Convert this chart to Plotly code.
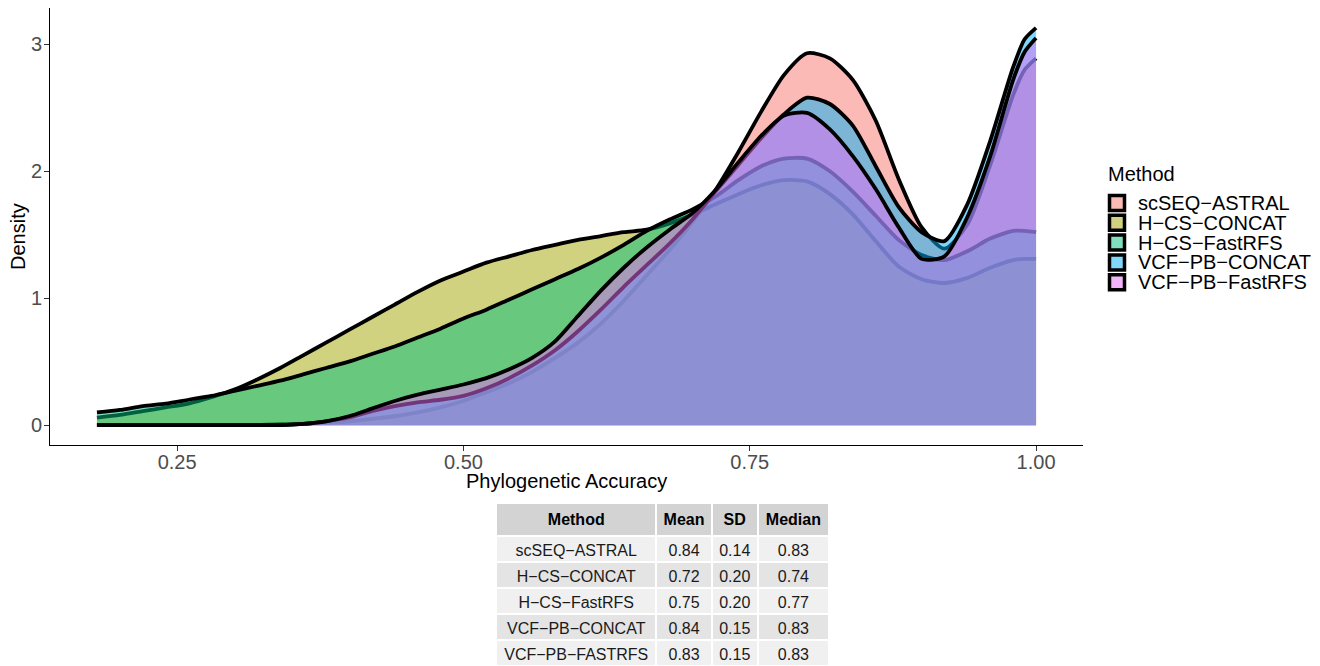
import plotly.graph_objects as go

# ---------------- data ----------------
x_grid = [0.18, 0.20, 0.22, 0.24, 0.26, 0.28, 0.30, 0.32, 0.34, 0.36,
          0.38, 0.40, 0.42, 0.44, 0.46, 0.48, 0.50, 0.52, 0.54, 0.56,
          0.58, 0.60, 0.62, 0.64, 0.66, 0.68, 0.70, 0.72, 0.74, 0.76,
          0.78, 0.80, 0.82, 0.84, 0.86, 0.88, 0.90, 0.92, 0.94, 0.96,
          0.98, 0.99, 1.00]

methods = ["scSEQ−ASTRAL", "H−CS−CONCAT", "H−CS−FastRFS",
           "VCF−PB−CONCAT", "VCF−PB−FastRFS"]

dens_scseq_astral = [0.00, 0.00, 0.00, 0.00, 0.00, 0.00, 0.00, 0.00, 0.01, 0.01,
                     0.02, 0.03, 0.05, 0.07, 0.10, 0.14, 0.19, 0.26, 0.33, 0.42,
                     0.53, 0.65, 0.80, 0.98, 1.18, 1.38, 1.60, 1.85, 2.15, 2.47,
                     2.76, 2.93, 2.89, 2.72, 2.40, 1.94, 1.56, 1.39, 1.58, 2.05,
                     2.60, 2.80, 2.89]

dens_hcs_concat = [0.06, 0.08, 0.11, 0.14, 0.17, 0.22, 0.28, 0.36, 0.45, 0.55,
                   0.65, 0.75, 0.85, 0.95, 1.05, 1.14, 1.21, 1.28, 1.33, 1.38,
                   1.42, 1.46, 1.49, 1.52, 1.54, 1.59, 1.66, 1.74, 1.82, 1.89,
                   1.93, 1.92, 1.82, 1.66, 1.45, 1.25, 1.15, 1.12, 1.16, 1.24,
                   1.30, 1.31, 1.31]

dens_hcs_fastrfs = [0.10, 0.12, 0.15, 0.17, 0.20, 0.23, 0.27, 0.31, 0.35, 0.40,
                    0.45, 0.50, 0.56, 0.62, 0.69, 0.76, 0.84, 0.91, 0.99, 1.07,
                    1.15, 1.23, 1.32, 1.42, 1.53, 1.62, 1.70, 1.80, 1.93, 2.04,
                    2.10, 2.10, 2.00, 1.84, 1.65, 1.46, 1.34, 1.30, 1.37, 1.47,
                    1.53, 1.53, 1.52]

dens_vcf_concat = [0.00, 0.00, 0.00, 0.00, 0.00, 0.00, 0.00, 0.00, 0.00, 0.01,
                   0.03, 0.06, 0.11, 0.15, 0.18, 0.20, 0.23, 0.29, 0.37, 0.47,
                   0.59, 0.74, 0.91, 1.09, 1.26, 1.43, 1.62, 1.84, 2.05, 2.26,
                   2.45, 2.58, 2.53, 2.36, 2.04, 1.72, 1.52, 1.45, 1.74, 2.24,
                   2.82, 3.04, 3.13]

dens_vcf_fastrfs = [0.00, 0.00, 0.00, 0.00, 0.00, 0.00, 0.00, 0.00, 0.00, 0.01,
                    0.03, 0.07, 0.13, 0.19, 0.24, 0.28, 0.32, 0.37, 0.44, 0.53,
                    0.66, 0.86, 1.06, 1.24, 1.40, 1.54, 1.67, 1.85, 2.07, 2.28,
                    2.44, 2.46, 2.33, 2.12, 1.86, 1.56, 1.31, 1.33, 1.64, 2.12,
                    2.72, 2.94, 3.05]

fill_colors = ["rgba(248,118,109,0.5)", "rgba(163,165,0,0.5)", "rgba(0,191,125,0.5)",
               "rgba(0,176,246,0.5)", "rgba(231,107,243,0.5)"]
key_colors = ["#FBBAB6", "#D1D280", "#80DFBE", "#80D7FA", "#F3B5F9"]

# summary table
table_header = ["Method", "Mean", "SD", "Median"]
table_methods = ["scSEQ−ASTRAL", "H−CS−CONCAT", "H−CS−FastRFS",
                 "VCF−PB−CONCAT", "VCF−PB−FASTRFS"]
table_mean = ["0.84", "0.72", "0.75", "0.84", "0.83"]
table_sd = ["0.14", "0.20", "0.20", "0.15", "0.15"]
table_median = ["0.83", "0.74", "0.77", "0.83", "0.83"]

x_ticks = [0.25, 0.50, 0.75, 1.00]
x_tick_labels = ["0.25", "0.50", "0.75", "1.00"]
y_ticks = [0, 1, 2, 3]
y_tick_labels = ["0", "1", "2", "3"]

# ---------------- figure ----------------
W, H = 1320, 666
FONT = "Liberation Sans, Arial, Helvetica, sans-serif"

fig = go.Figure()
all_dens = [dens_scseq_astral, dens_hcs_concat, dens_hcs_fastrfs,
            dens_vcf_concat, dens_vcf_fastrfs]
for name, dens, fc in zip(methods, all_dens, fill_colors):
    fig.add_trace(go.Scatter(
        x=x_grid, y=dens, name=name, mode="lines",
        line=dict(color="black", width=3.8, shape="spline", smoothing=0.7),
        fill="tozeroy", fillcolor=fc, showlegend=False, hoverinfo="skip"))

row_fill = ["#F0F0F0", "#E4E4E4", "#F0F0F0", "#E4E4E4", "#F0F0F0"]
fig.add_trace(go.Table(
    domain=dict(x=[496 / W, 829 / W], y=[0, 163 / H]),
    columnwidth=[160, 55, 46, 71],
    header=dict(values=["<b>%s</b>" % h for h in table_header],
                fill_color="#D3D3D3", line=dict(color="white", width=2),
                font=dict(family=FONT, size=16, color="black"),
                align="center", height=24),
    cells=dict(values=[table_methods, table_mean, table_sd, table_median],
               fill_color=[row_fill] * 4, line=dict(color="white", width=2),
               font=dict(family=FONT, size=16, color="#1a1a1a"),
               align="center", height=26)))

# manual ggplot-like legend
shapes = []
annotations = []
annotations.append(dict(text="Method", x=1106 / W, y=1 - 174 / H, xref="paper", yref="paper",
                        xanchor="left", yanchor="middle", showarrow=False,
                        font=dict(family=FONT, size=20, color="black")))
for i, (name, kc) in enumerate(zip(methods, key_colors)):
    yc = 203 + 19.8 * i
    shapes.append(dict(type="rect", xref="paper", yref="paper",
                       x0=1109.5 / W, x1=1124.5 / W,
                       y0=1 - (yc + 7.5) / H, y1=1 - (yc - 7.5) / H,
                       fillcolor=kc, line=dict(color="black", width=3.5)))
    annotations.append(dict(text=name, x=1136 / W, y=1 - yc / H, xref="paper", yref="paper",
                            xanchor="left", yanchor="middle", showarrow=False,
                            font=dict(family=FONT, size=20, color="black")))

# axis titles
annotations.append(dict(text="Phylogenetic Accuracy", x=566 / W, y=1 - 481 / H,
                        xref="paper", yref="paper", xanchor="center", yanchor="middle",
                        showarrow=False, font=dict(family=FONT, size=20, color="black")))
annotations.append(dict(text="Density", x=18 / W, y=1 - 237 / H, textangle=-90,
                        xref="paper", yref="paper", xanchor="center", yanchor="middle",
                        showarrow=False, font=dict(family=FONT, size=20, color="black")))

fig.update_layout(
    width=W, height=H,
    margin=dict(l=0, r=0, t=0, b=0),
    paper_bgcolor="white", plot_bgcolor="white",
    showlegend=False,
    font=dict(family=FONT),
    shapes=shapes, annotations=annotations,
    xaxis=dict(domain=[50 / W, 1083 / W], range=[0.139, 1.041],
               tickmode="array", tickvals=x_ticks, ticktext=x_tick_labels,
               ticks="outside", ticklen=5, tickwidth=1, tickcolor="#333333",
               showline=True, linecolor="black", linewidth=1,
               showgrid=False, zeroline=False, ticklabelstandoff=-6,
               tickfont=dict(family=FONT, size=20, color="#4D4D4D")),
    yaxis=dict(domain=[1 - 445 / H, 1 - 8 / H], range=[-0.1565, 3.2865],
               tickmode="array", tickvals=y_ticks, ticktext=y_tick_labels,
               ticks="outside", ticklen=5, tickwidth=1, tickcolor="#333333",
               showline=True, linecolor="black", linewidth=1,
               showgrid=False, zeroline=False, ticklabelstandoff=-2,
               tickfont=dict(family=FONT, size=20, color="#4D4D4D")),
)

fig.write_html("out.html")
